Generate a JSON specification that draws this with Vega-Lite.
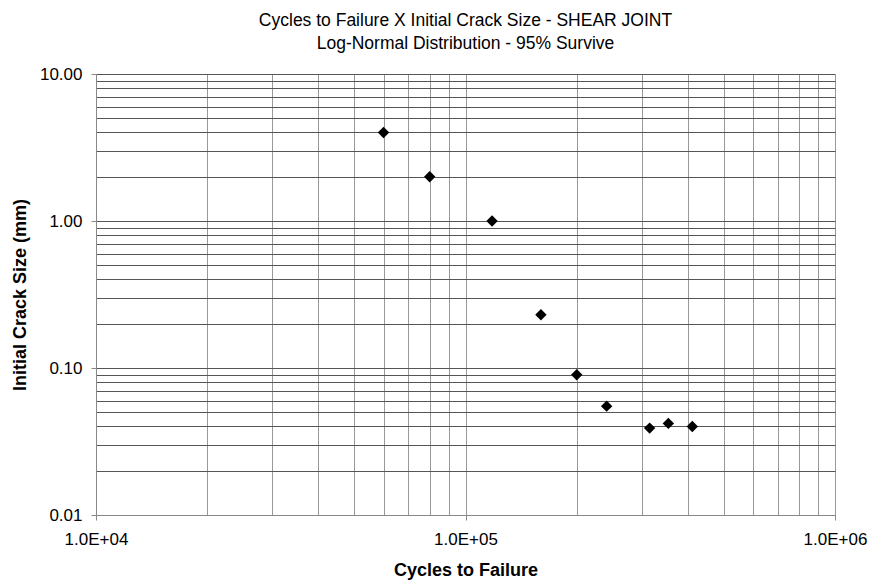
{
  "$schema": "https://vega.github.io/schema/vega-lite/v6.json",
  "width": 739,
  "height": 441,
  "autosize": "none",
  "padding": {"left": 96, "top": 74, "right": 38, "bottom": 67},
  "background": "white",
  "config": {
    "font": "Liberation Sans",
    "view": {"stroke": null}
  },
  "title": {
    "text": ["Cycles to Failure X Initial Crack Size - SHEAR JOINT", "Log-Normal Distribution - 95% Survive"],
    "fontSize": 17.5,
    "fontWeight": "normal",
    "font": "Liberation Sans",
    "color": "#000000",
    "anchor": "middle",
    "lineHeight": 23,
    "offset": 13
  },
  "data": {
    "values": [
      {"cycles": 60000, "crack": 4.0},
      {"cycles": 80000, "crack": 2.0},
      {"cycles": 118000, "crack": 1.0},
      {"cycles": 160000, "crack": 0.23},
      {"cycles": 200000, "crack": 0.09},
      {"cycles": 241000, "crack": 0.055},
      {"cycles": 315000, "crack": 0.039},
      {"cycles": 354000, "crack": 0.042},
      {"cycles": 411000, "crack": 0.04}
    ]
  },
  "mark": {"type": "point", "shape": "diamond", "filled": true, "color": "#000000", "size": 130, "opacity": 1},
  "encoding": {
    "x": {
      "field": "cycles",
      "type": "quantitative",
      "scale": {"type": "log", "domain": [10000, 1000000], "nice": false},
      "axis": {
        "title": "Cycles to Failure",
        "titleFont": "Liberation Sans",
        "titleFontSize": 18,
        "titleFontWeight": "bold",
        "titleColor": "#000000",
        "titlePadding": 14,
        "values": [10000, 20000, 30000, 40000, 50000, 60000, 70000, 80000, 90000, 100000, 200000, 300000, 400000, 500000, 600000, 700000, 800000, 900000, 1000000],
        "labelExpr": "datum.value == 10000 ? '1.0E+04' : datum.value == 100000 ? '1.0E+05' : datum.value == 1000000 ? '1.0E+06' : ''",
        "labelFont": "Liberation Sans",
        "labelFontSize": 17,
        "labelColor": "#000000",
        "labelPadding": 11,
        "labelOverlap": false,
        "labelBound": false,
        "labelFlush": false,
        "tickSize": 5,
        "tickColor": "#888888",
        "tickOpacity": {"condition": {"test": "datum.value == 10000 || datum.value == 100000 || datum.value == 1000000", "value": 1}, "value": 0},
        "domainColor": "#888888",
        "grid": true,
        "gridColor": "#999999",
        "gridWidth": 1,
        "gridOpacity": 1
      }
    },
    "y": {
      "field": "crack",
      "type": "quantitative",
      "scale": {"type": "log", "domain": [0.01, 10], "nice": false},
      "axis": {
        "title": "Initial Crack Size (mm)",
        "titleFont": "Liberation Sans",
        "titleFontSize": 18,
        "titleFontWeight": "bold",
        "titleColor": "#000000",
        "titlePadding": 10,
        "values": [0.01, 0.02, 0.03, 0.04, 0.05, 0.06, 0.07, 0.08, 0.09, 0.1, 0.2, 0.3, 0.4, 0.5, 0.6, 0.7, 0.8, 0.9, 1, 2, 3, 4, 5, 6, 7, 8, 9, 10],
        "labelExpr": "datum.value == 0.01 ? '0.01' : datum.value == 0.1 ? '0.10' : datum.value == 1 ? '1.00' : datum.value == 10 ? '10.00' : ''",
        "labelFont": "Liberation Sans",
        "labelFontSize": 17,
        "labelColor": "#000000",
        "labelPadding": 9,
        "labelOverlap": false,
        "labelBound": false,
        "labelFlush": false,
        "tickSize": 5,
        "tickColor": "#888888",
        "tickOpacity": {"condition": {"test": "datum.value == 0.01 || datum.value == 0.1 || datum.value == 1 || datum.value == 10", "value": 1}, "value": 0},
        "domainColor": "#888888",
        "grid": true,
        "gridColor": "#555555",
        "gridWidth": 1,
        "gridOpacity": 1
      }
    }
  }
}
